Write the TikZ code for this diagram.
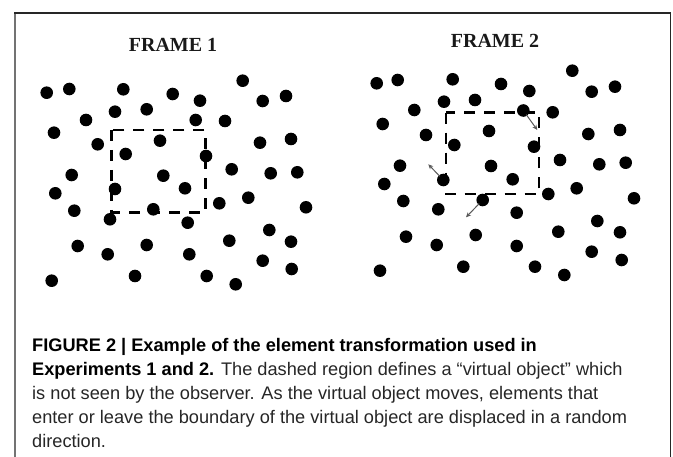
\documentclass[tikz,border=0pt]{standalone}
\usepackage{fontspec}
\setmainfont{Liberation Serif}
\newfontfamily\capfont{Liberation Sans}
\usetikzlibrary{arrows.meta}

\begin{document}
\begin{tikzpicture}[x=1pt,y=-1pt,
  vobj/.style={line width=2.6pt,dash pattern=on 11pt off 9pt},
  mv/.style={draw=black!65,line width=1pt,shorten <=5pt,
    -{Stealth[length=5pt,width=4.5pt]}},
  frametitle/.style={font=\bfseries\fontsize{20}{24}\selectfont,
    text=black!90,inner sep=0pt,anchor=base}]
  \useasboundingbox (0,0) rectangle (673,457);
  \draw[black!55,line width=1.8pt] (15,457)--(15,13);
  \draw[black!85,line width=1.2pt] (14.1,13)--(670.5,13)--(670.5,457);
  \node[frametitle] (t1) at (173,52) {FRAME 1};
  \node[frametitle] (t2) at (495,48) {FRAME 2};
  \foreach \x/\y [count=\i] in {46.7/92.7,69.3/89,123.3/89.3,172.7/94,
    200/100.7,242.7/80.7,262.7/101,286/96,86/120,115/111.7,146.7/109.3,
    195.7/120,225/121,54/132.7,97.7/144.3,160/140.7,125.7/154,206/156,
    260/142.7,291/139,71.7/175,163.3/175.7,231.7/169.3,270.7/173.3,
    297.3/172.3,55.3/193.3,115/189,185/188.3,248.3/197.7,74.3/210.7,
    110/219.3,153.3/209.3,219.3/203.3,306/207.3,187.7/222.7,269.3/230,
    77.7/246,107.7/254.3,146.7/245,189.3/254.3,229.3/240.7,291/241.7,
    262.7/260.7,291.7/269,51.7/280.7,135/276,206.7/276,235.7/284.3}
  {
    \coordinate (p\i) at (\x,\y);
    \fill (p\i) circle (6.3pt);
  }
  \foreach \x/\y [count=\i] in {376.7/83.3,397.7/80,452.7/79.3,501/84,
    529.3/91,572.3/70.7,591.7/91.7,615/86.7,414.3/110,444/101.7,475/100,
    523.3/110.5,552.7/112.3,382.7/124,426/135,489/131,454.3/145,534/146.7,
    588.3/134,620/130,400/165.7,491/166,560/160,599.3/164.3,625.7/162.7,
    384.3/184,443.3/180,512.7/179.3,576.7/188.3,403.3/201,438.3/209.3,
    482.7/200,548.3/194,634/198.3,516.7/212.7,597.3/221,406/236.7,
    436.7/245,475.7/235,516.7/246,558.3/231.7,620/232.3,591.7/251.7,
    621.7/260,380/270.7,463.3/266.7,535/266.7,564.3/275}
  {
    \coordinate (q\i) at (\x,\y);
    \fill (q\i) circle (6.3pt);
  }
  \draw[vobj] (111.7,130) rectangle (205.7,212.3);
  \draw[vobj] (446,112.7) rectangle (539,194);
  \coordinate (m1) at (537.3,130);
  \coordinate (m2) at (428.3,164.3);
  \coordinate (m3) at (466,217.3);
  \draw[mv] (q12)--(m1);
  \draw[mv] (q27)--(m2);
  \draw[mv] (q32)--(m3);
  \node[anchor=north west,align=left,inner sep=0pt,text=black!85,
    font=\capfont\fontsize{18.2}{23.9}\selectfont] (cap) at (32,338.5)
  {\textcolor{black}{\bfseries FIGURE 2 | Example of the element transformation used in}\\
   \textcolor{black}{\bfseries Experiments 1 and 2.} The dashed region defines a “virtual object” which\\
   is not seen by the observer. As the virtual object moves, elements that\\
   enter or leave the boundary of the virtual object are displaced in a random\\
   direction.};
\end{tikzpicture}
\end{document}
